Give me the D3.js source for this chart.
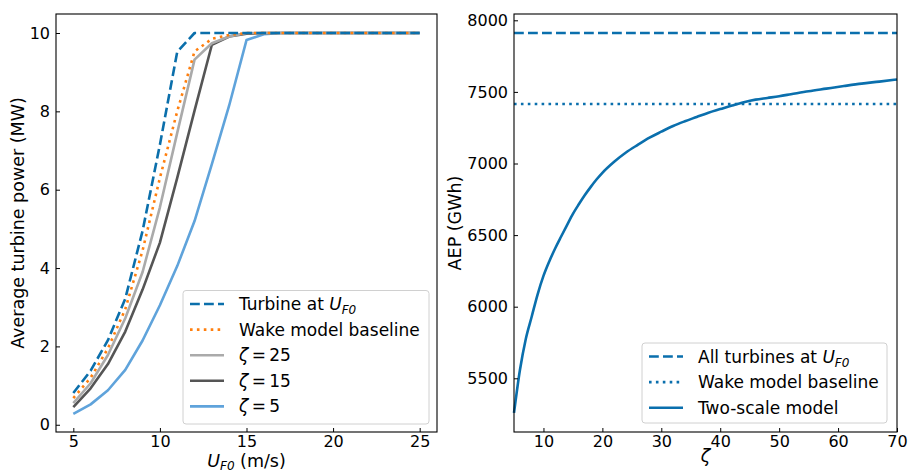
<!DOCTYPE html>
<html><head><meta charset="utf-8">
<script src="https://cdn.jsdelivr.net/npm/d3@7"></script>
<style>
body{margin:0;background:#fff;}
svg{font-family:"DejaVu Sans",sans-serif;}
</style></head>
<body>
<svg id="chart" width="908" height="472"></svg>
<script>
// ---------- data ----------
const windSpeeds = [5,6,7,8,9,10,11,12,13,14,15,16,17,18,19,20,21,22,23,24,25];
const turbineAtUF0 = [0.81,1.38,2.16,3.22,4.95,7.15,9.52,10,10,10,10,10,10,10,10,10,10,10,10,10,10];
const wakeBaseline = [0.68,1.20,1.95,2.95,4.45,6.30,8.00,9.53,9.85,9.95,10,10,10,10,10,10,10,10,10,10,10];
const zeta25 = [0.55,1.06,1.78,2.72,3.90,5.55,7.45,9.32,9.74,9.91,10,10,10,10,10,10,10,10,10,10,10];
const zeta15 = [0.45,0.93,1.55,2.38,3.45,4.65,6.30,8.02,9.70,9.91,9.98,10,10,10,10,10,10,10,10,10,10];
const zeta5  = [0.28,0.52,0.88,1.40,2.15,3.05,4.05,5.20,6.65,8.15,9.82,9.97,10,10,10,10,10,10,10,10,10];

const zetaValues = [5,6,7,8,9,10,11,12,13,14,15,16,17,18,19,20,22,24,26,28,30,32,34,36,38,40,42,44,46,48,50,52,55,58,61,64,67,70];
const aepTwoScale = [5258,5556,5775,5930,6085,6215,6318,6408,6490,6570,6648,6715,6778,6835,6888,6935,7012,7077,7130,7180,7222,7262,7295,7325,7355,7380,7405,7428,7446,7458,7470,7484,7505,7523,7541,7558,7572,7587];
const aepAllTurbinesUF0 = 7911;
const aepWakeBaseline = 7415;

const leftXTicks = [5,10,15,20,25];
const leftYTicks = [0,2,4,6,8,10];
const rightXTicks = [10,20,30,40,50,60,70];
const rightYTicks = [5500,6000,6500,7000,7500,8000];

// ---------- styles ----------
const C_DASH = "#0b6fab", C_ORANGE = "#ff7f0e", C_LGRAY = "#aaaaaa", C_DGRAY = "#555555", C_LBLUE = "#5fa3db";
const LW = 2.6;
const DASH = "9.8,4.2", DOT = "2.6,4.3";
const TICK_FS = 16, LAB_FS = 17.5, LEG_FS = 17;

const svg = d3.select("#chart");

function drawAxes(g, x, y, xt, yt, w, h){
  const ax = g.append("g").attr("transform",`translate(0,${h})`)
    .call(d3.axisBottom(x).tickValues(xt).tickFormat(d3.format("d")).tickSizeInner(-4).tickSizeOuter(0).tickPadding(4));
  const ay = g.append("g")
    .call(d3.axisLeft(y).tickValues(yt).tickFormat(d3.format("d")).tickSizeInner(-4).tickSizeOuter(0).tickPadding(6));
  [ax,ay].forEach(a=>{
    a.select(".domain").remove();
    a.selectAll("text").attr("font-size",TICK_FS).attr("fill","#000").attr("font-family","DejaVu Sans");
    a.selectAll("line").attr("stroke","#000").attr("stroke-width",1);
  });
  g.append("rect").attr("x",0).attr("y",0).attr("width",w).attr("height",h)
    .attr("fill","none").attr("stroke","#000").attr("stroke-width",1.1);
}

// ---------- left panel ----------
const L = {x:56, y:14, w:381, h:418};
const gl = svg.append("g").attr("transform",`translate(${L.x},${L.y})`);
const xl = d3.scaleLinear().domain([4,26]).range([0,L.w]);
const yl = d3.scaleLinear().domain([-0.185,10.485]).range([L.h,0]);

const leftSeries = [
  {vals:zeta5, color:C_LBLUE, dash:null},
  {vals:zeta15, color:C_DGRAY, dash:null},
  {vals:zeta25, color:C_LGRAY, dash:null},
  {vals:wakeBaseline, color:C_ORANGE, dash:DOT},
  {vals:turbineAtUF0, color:C_DASH, dash:DASH},
];
const lineL = d3.line().x((d,i)=>xl(windSpeeds[i])).y(d=>yl(d));
leftSeries.forEach(s=>{
  gl.append("path").attr("d",lineL(s.vals)).attr("fill","none")
    .attr("stroke",s.color).attr("stroke-width",LW)
    .attr("stroke-dasharray",s.dash).attr("stroke-linejoin","round");
});
drawAxes(gl, xl, yl, leftXTicks, leftYTicks, L.w, L.h);

// left labels
svg.append("text").attr("transform",`translate(24,${L.y+L.h/2}) rotate(-90)`)
  .attr("text-anchor","middle").attr("font-size",LAB_FS).text("Average turbine power (MW)");
const xlab = svg.append("text").attr("x",L.x+L.w/2).attr("y",467).attr("text-anchor","middle").attr("font-size",LAB_FS);
xlab.append("tspan").attr("font-style","italic").text("U");
xlab.append("tspan").attr("font-style","italic").attr("font-size",12).attr("dy",3).text("F0");
xlab.append("tspan").attr("dy",-3).text(" (m/s)");

// legend helper
function legend(x0,y0,w,h,rows){
  svg.append("rect").attr("x",x0).attr("y",y0).attr("width",w).attr("height",h)
    .attr("rx",3).attr("fill","#fff").attr("fill-opacity",0.8).attr("stroke","#d0d0d0").attr("stroke-width",1);
  rows.forEach((r,i)=>{
    const cy = y0 + 13.5 + i*25.6;
    svg.append("line").attr("x1",x0+7).attr("x2",x0+41).attr("y1",cy).attr("y2",cy)
      .attr("stroke",r.color).attr("stroke-width",LW).attr("stroke-dasharray",r.dash);
    const t = svg.append("text").attr("x",x0+56).attr("y",cy+6).attr("font-size",LEG_FS);
    r.label(t);
  });
}
function plain(s){return t=>t.text(s);}
function uLabel(prefix){return t=>{
  t.append("tspan").text(prefix);
  t.append("tspan").attr("font-style","italic").text("U");
  t.append("tspan").attr("font-style","italic").attr("font-size",12).attr("dy",4).text("F0");
};}
function zLabel(v){return t=>{
  t.append("tspan").attr("font-style","italic").text("ζ");
  t.append("tspan").text("\u2009=\u2009"+v);
};}
legend(183,290.5,246,133.5,[
  {color:C_DASH, dash:DASH, label:uLabel("Turbine at ")},
  {color:C_ORANGE, dash:DOT, label:plain("Wake model baseline")},
  {color:C_LGRAY, dash:null, label:zLabel(25)},
  {color:C_DGRAY, dash:null, label:zLabel(15)},
  {color:C_LBLUE, dash:null, label:zLabel(5)},
]);

// ---------- right panel ----------
const R = {x:514, y:14, w:383, h:418};
const gr = svg.append("g").attr("transform",`translate(${R.x},${R.y})`);
const xr = d3.scaleLinear().domain([5,70]).range([0,R.w]);
const yr = d3.scaleLinear().domain([5125,8044]).range([R.h,0]);
const C_R = "#0a6fad";
gr.append("line").attr("x1",xr(5)).attr("x2",xr(70)).attr("y1",yr(aepAllTurbinesUF0)).attr("y2",yr(aepAllTurbinesUF0))
  .attr("stroke",C_R).attr("stroke-width",LW).attr("stroke-dasharray",DASH);
gr.append("line").attr("x1",xr(5)).attr("x2",xr(70)).attr("y1",yr(aepWakeBaseline)).attr("y2",yr(aepWakeBaseline))
  .attr("stroke",C_R).attr("stroke-width",LW).attr("stroke-dasharray",DOT);
const lineR = d3.line().x((d,i)=>xr(zetaValues[i])).y(d=>yr(d)).curve(d3.curveMonotoneX);
gr.append("path").attr("d",lineR(aepTwoScale)).attr("fill","none").attr("stroke",C_R).attr("stroke-width",LW);
drawAxes(gr, xr, yr, rightXTicks, rightYTicks, R.w, R.h);

svg.append("text").attr("transform",`translate(461,${R.y+R.h/2}) rotate(-90)`)
  .attr("text-anchor","middle").attr("font-size",LAB_FS).text("AEP (GWh)");
svg.append("text").attr("x",R.x+R.w/2).attr("y",462).attr("text-anchor","middle")
  .attr("font-size",LAB_FS).attr("font-style","italic").text("ζ");

legend(642,343,245,80,[
  {color:C_R, dash:DASH, label:uLabel("All turbines at ")},
  {color:C_R, dash:DOT, label:plain("Wake model baseline")},
  {color:C_R, dash:null, label:plain("Two-scale model")},
]);
</script>
</body></html>
